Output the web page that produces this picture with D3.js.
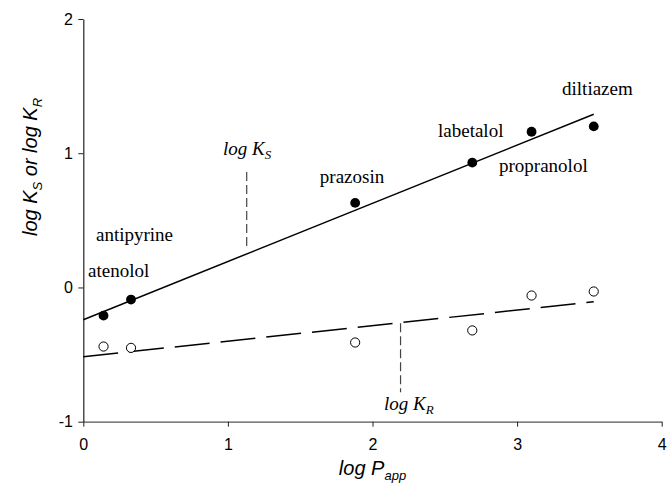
<!DOCTYPE html>
<html>
<head>
<meta charset="utf-8">
<script src="https://cdn.jsdelivr.net/npm/d3@7"></script>
<style>
  html, body { margin: 0; padding: 0; background: #fff; }
  svg { display: block; }
</style>
</head>
<body>
<div id="chart"></div>
<script>
// ---- data ----
const drugs   = ["atenolol", "antipyrine", "prazosin", "propranolol", "labetalol", "diltiazem"];
const logPapp = [0.14, 0.33, 1.88, 2.69, 3.10, 3.53];
const logKS   = [-0.21, -0.09, 0.63, 0.93, 1.16, 1.20];
const logKR   = [-0.44, -0.45, -0.41, -0.32, -0.06, -0.03];
// fitted regression lines (end points)
const fitKS = [[0, -0.24], [3.53, 1.29]];
const fitKR = [[0, -0.516], [3.53, -0.107]];
const xTicks = [0, 1, 2, 3, 4];
const yTicks = [-1, 0, 1, 2];
// annotation labels (data coordinates)
const labelText = ["atenolol", "antipyrine", "prazosin", "labetalol", "propranolol", "diltiazem"];
const labelX    = [0.033, 0.088, 1.636, 2.453, 2.875, 3.311];
const labelY    = [0.077, 0.344, 0.776, 1.118, 0.858, 1.431];
// pointer annotations
const pointerKS = [[1.13, 0.86], [1.13, 0.29]];
const pointerKR = [[2.194, -0.266], [2.194, -0.78]];

const W = 668, H = 491;
const margin = {left: 83.3, right: 6.3, top: 19, bottom: 69.3};

const svg = d3.select("#chart").append("svg")
  .attr("width", W).attr("height", H);

const x = d3.scaleLinear().domain([0, 4]).range([margin.left, W - margin.right]);
const y = d3.scaleLinear().domain([-1, 2]).range([H - margin.bottom, margin.top]);

// axes
const fmt = d => String(d);
const xAxis = svg.append("g")
  .attr("transform", `translate(0,${y(-1)})`)
  .call(d3.axisBottom(x).tickValues(xTicks).tickFormat(fmt).tickSize(5).tickSizeOuter(0));
const yAxis = svg.append("g")
  .attr("transform", `translate(${x(0)},0)`)
  .call(d3.axisLeft(y).tickValues(yTicks).tickFormat(fmt).tickSize(5).tickSizeOuter(0));

[xAxis, yAxis].forEach(g => {
  g.selectAll("text").attr("font-family", "'Liberation Sans', Arial, sans-serif")
    .attr("font-size", 16).attr("fill", "#000");
  g.selectAll("line").attr("stroke", "#222");
  g.select(".domain").attr("stroke", "#222").attr("stroke-width", 1.2);
});
xAxis.select(".domain").attr("stroke", "#555");
xAxis.selectAll("text").attr("dy", "1.25em");
yAxis.selectAll("text").attr("dx", "-0.15em");

// regression lines
const line = d3.line().x(d => x(d[0])).y(d => y(d[1]));
svg.append("path").datum(fitKS).attr("d", line)
  .attr("fill", "none").attr("stroke", "#000").attr("stroke-width", 1.5);
svg.append("path").datum(fitKR).attr("d", line)
  .attr("fill", "none").attr("stroke", "#000").attr("stroke-width", 1.5)
  .attr("stroke-dasharray", "35,11");

// pointers
[pointerKS, pointerKR].forEach(p => {
  svg.append("path").datum(p).attr("d", line)
    .attr("fill", "none").attr("stroke", "#444").attr("stroke-width", 1.2)
    .attr("stroke-dasharray", "9,4");
});

// points
const pts = drugs.map((d, i) => ({name: d, x: logPapp[i], ks: logKS[i], kr: logKR[i]}));
svg.append("g").selectAll("circle").data(pts).join("circle")
  .attr("cx", d => x(d.x)).attr("cy", d => y(d.kr)).attr("r", 4.6)
  .attr("fill", "#fff").attr("stroke", "#000").attr("stroke-width", 1);
svg.append("g").selectAll("circle").data(pts).join("circle")
  .attr("cx", d => x(d.x)).attr("cy", d => y(d.ks)).attr("r", 4.9)
  .attr("fill", "#000");

// drug labels
const serif = "'Liberation Serif', 'Times New Roman', serif";
svg.append("g").selectAll("text").data(labelText).join("text")
  .attr("x", (d, i) => x(labelX[i])).attr("y", (d, i) => y(labelY[i]))
  .attr("font-family", serif).attr("font-size", 19).attr("fill", "#000")
  .text(d => d);

// log K_S / log K_R annotations
function subLabel(px, py, main, sub) {
  const t = svg.append("text").attr("x", px).attr("y", py)
    .attr("font-family", serif).attr("font-style", "italic")
    .attr("font-size", 19).attr("fill", "#000");
  t.append("tspan").text(main);
  t.append("tspan").attr("font-size", 13).attr("dy", 4).text(sub);
}
subLabel(x(0.966), y(0.984), "log K", "S");
subLabel(x(2.08), y(-0.913), "log K", "R");

// axis titles
const sans = "'Liberation Sans', Arial, sans-serif";
const xt = svg.append("text")
  .attr("x", (x(0) + x(4)) / 2).attr("y", 475)
  .attr("text-anchor", "middle")
  .attr("font-family", sans).attr("font-style", "italic").attr("font-size", 20).attr("fill", "#000");
xt.append("tspan").text("log P");
xt.append("tspan").attr("font-size", 13).attr("dy", 5).text("app");

const yt = svg.append("text")
  .attr("transform", "translate(37,167) rotate(-90)")
  .attr("text-anchor", "middle")
  .attr("font-family", sans).attr("font-style", "italic").attr("font-size", 20).attr("fill", "#000");
yt.append("tspan").text("log K");
yt.append("tspan").attr("font-size", 13).attr("dy", 5).text("S");
yt.append("tspan").attr("dy", -5).text(" or log K");
yt.append("tspan").attr("font-size", 13).attr("dy", 5).text("R");
</script>
</body>
</html>
